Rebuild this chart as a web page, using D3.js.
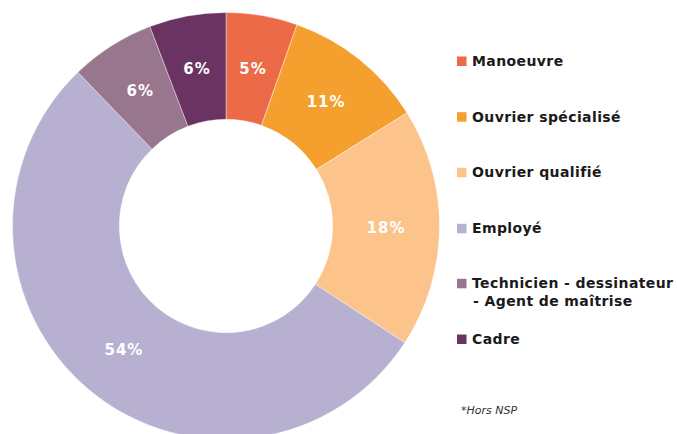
<!DOCTYPE html>
<html>
<head>
<meta charset="utf-8">
<script src="https://cdn.jsdelivr.net/npm/d3@7"></script>
<style>
  html, body { margin: 0; padding: 0; background: #fff; }
  svg { display: block; }
</style>
</head>
<body>
<svg id="chart" width="677" height="434"></svg>
<script>
const categories = ["Manoeuvre", "Ouvrier spécialisé", "Ouvrier qualifié", "Employé", "Technicien - dessinateur\n- Agent de maîtrise", "Cadre"];
const values = [5.4, 10.7, 18.1, 53.6, 6.4, 5.8];
const colors = ["#EC6A47", "#F5A02E", "#FCC38B", "#B7B0D1", "#98768E", "#6B3361"];
const footnote = "*Hors NSP";

const svg = d3.select("#chart");
const cx = 226, cy = 226, rOuter = 213.5, rInner = 106.7;

const data = categories.map((c, i) => ({ cat: c, value: values[i], color: colors[i] }));
const pie = d3.pie().sort(null).value(d => d.value);
const arc = d3.arc().innerRadius(rInner).outerRadius(rOuter);
const arcs = pie(data);

const g = svg.append("g").attr("transform", `translate(${cx},${cy})`);
g.selectAll("path").data(arcs).enter().append("path")
  .attr("d", arc)
  .attr("fill", d => d.data.color)
  .attr("stroke", "#fff")
  .attr("stroke-width", 0.4);

g.selectAll("text.lbl").data(arcs).enter().append("text")
  .attr("class", "lbl")
  .attr("transform", d => { const c = arc.centroid(d); return `translate(${c[0]},${c[1] + 5.5})`; })
  .attr("text-anchor", "middle")
  .attr("fill", "#fff")
  .style("font-family", "'DejaVu Sans', Verdana, sans-serif")
  .style("font-weight", "bold")
  .style("font-size", "15px")
  .style("letter-spacing", "1px")
  .text(d => Math.round(d.data.value) + "%");

// Legend
const legendX = 457, textX = 472;
const baselines = [66, 121.7, 177.3, 233.3, 288.3, 344];
const leg = svg.append("g");
data.forEach((d, i) => {
  leg.append("rect")
    .attr("x", legendX).attr("y", baselines[i] - 9.5)
    .attr("width", 9.5).attr("height", 9.5)
    .attr("fill", d.color);
  const t = leg.append("text")
    .attr("x", textX).attr("y", baselines[i])
    .attr("fill", "#1a1a1a")
    .style("font-family", "'DejaVu Sans', Verdana, sans-serif")
    .style("font-weight", "bold")
    .style("font-size", "14px")
    .style("letter-spacing", "0.4px");
  d.cat.split("\n").forEach((line, j) => {
    t.append("tspan").attr("x", j === 0 ? textX : textX + 1).attr("dy", j === 0 ? 0 : 17.4).text(line);
  });
});

svg.append("text")
  .attr("x", 461).attr("y", 414)
  .attr("fill", "#333")
  .style("font-family", "'DejaVu Sans', Verdana, sans-serif")
  .style("font-style", "italic")
  .style("font-size", "11px")
  .text(footnote);
</script>
</body>
</html>
